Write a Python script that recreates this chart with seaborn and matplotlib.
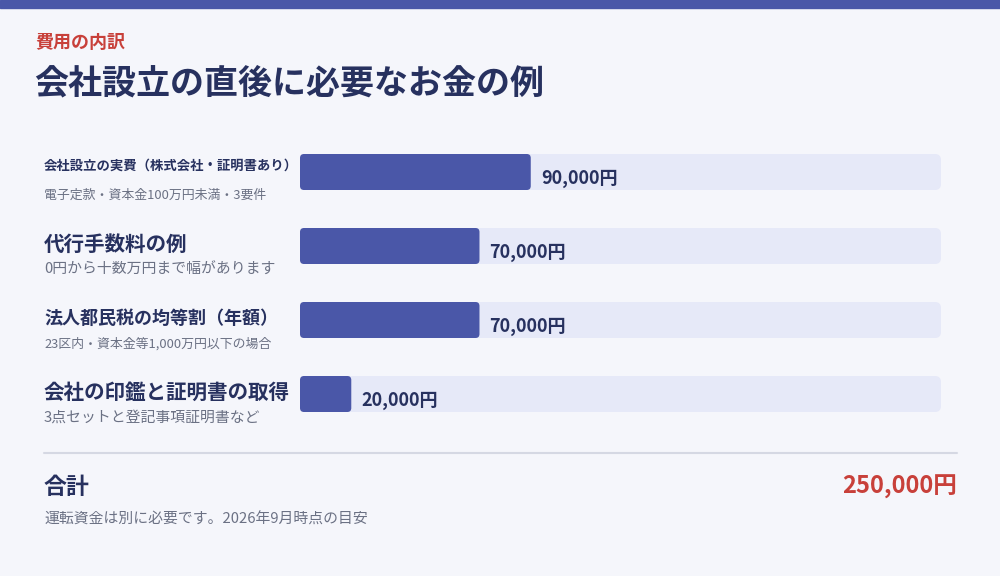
import matplotlib
matplotlib.use("Agg")
import matplotlib.pyplot as plt
import seaborn as sns
import pandas as pd
from matplotlib.patches import FancyBboxPatch, Rectangle

sns.set_theme(style="white")
plt.rcParams['font.family'] = ['Noto Sans CJK JP', 'DejaVu Sans']

# データ
items = ["会社設立の実費（株式会社・証明書あり）", "代行手数料の例", "法人都民税の均等割（年額）", "会社の印鑑と証明書の取得"]
notes = ["電子定款・資本金100万円未満・3要件", "0円から十数万円まで幅があります", "23区内・資本金等1,000万円以下の場合", "3点セットと登記事項証明書など"]
costs = [90000, 70000, 70000, 20000]
total = 250000
rows_y = [172, 246, 320, 394]

BG = "#f5f6fb"
NAVY = "#27315f"
BAR = "#4a57a8"
TRACK = "#e6e9f8"
RED = "#c8403a"
GRAY = "#6b7184"

fig = plt.figure(figsize=(10, 5.76), dpi=100, facecolor=BG)
fig.patches.append(Rectangle((0, 1 - 8 / 576), 1, 8 / 576, transform=fig.transFigure, color=BAR))

ax = fig.add_axes([0.300, 0, 0.641, 1])
ax.set_facecolor("none")
df = pd.DataFrame({"y": rows_y, "cost": costs, "track": [total] * 4})
sns.barplot(data=df, x="track", y="y", orient="h", native_scale=True, width=36 / 74,
            color=TRACK, saturation=1, ax=ax)
sns.barplot(data=df, x="cost", y="y", orient="h", native_scale=True, width=36 / 74,
            color=BAR, saturation=1, ax=ax)
ax.set_xlim(0, total)
ax.set_ylim(576, 0)
ax.axis("off")

# 角を丸める
upp = total / 641
for p in list(ax.patches):
    x, y, w, h = p.get_x(), p.get_y(), p.get_width(), p.get_height()
    fc = p.get_facecolor()
    p.remove()
    r = (4 if fc[0] < 0.5 else 6) * upp
    ax.add_patch(FancyBboxPatch((x, y), w, h, boxstyle=f"round,pad=0,rounding_size={r}",
                                mutation_aspect=1 / upp, fc=fc, ec="none"))

for v, yy in zip(costs, rows_y):
    ax.text(v + 10 * upp, yy + 6, f"{v:,}円", fontsize=13, fontweight="bold", color=NAVY, va="center")

def fy(p):
    return 1 - p / 576

fig.text(0.035, fy(43), "費用の内訳", fontsize=13, fontweight="bold", color=RED, va="center")
fig.text(0.034, fy(83), "会社設立の直後に必要なお金の例", fontsize=24.5, fontweight="bold", color=NAVY, va="center")

fig.text(0.044, fy(166), items[0], fontsize=9.6, fontweight="bold", color=NAVY, va="center")
fig.text(0.044, fy(195), notes[0], fontsize=9.3, color=GRAY, va="center")
for i in range(1, 4):
    yy = rows_y[i]
    fig.text(0.044, fy(yy - 2), items[i], fontsize=14.8 if i != 2 else 13, fontweight="bold", color=NAVY, va="center")
    fig.text(0.044, fy(yy + 24), notes[i], fontsize=10.7 if i != 2 else 9.3, color=GRAY, va="center")

fig.add_artist(plt.Line2D([0.044, 0.957], [fy(453), fy(453)], color="#d5d8e3", lw=1.5))
fig.text(0.044, fy(487), "合計", fontsize=16.5, fontweight="bold", color=NAVY, va="center")
fig.text(0.957, fy(487), f"{total:,}円", fontsize=17, fontweight="bold", color=RED, va="center", ha="right")
fig.text(0.044, fy(520), "運転資金は別に必要です。2026年9月時点の目安", fontsize=10.7, color=GRAY, va="center")

fig.savefig("out.png", dpi=100, facecolor=BG)
